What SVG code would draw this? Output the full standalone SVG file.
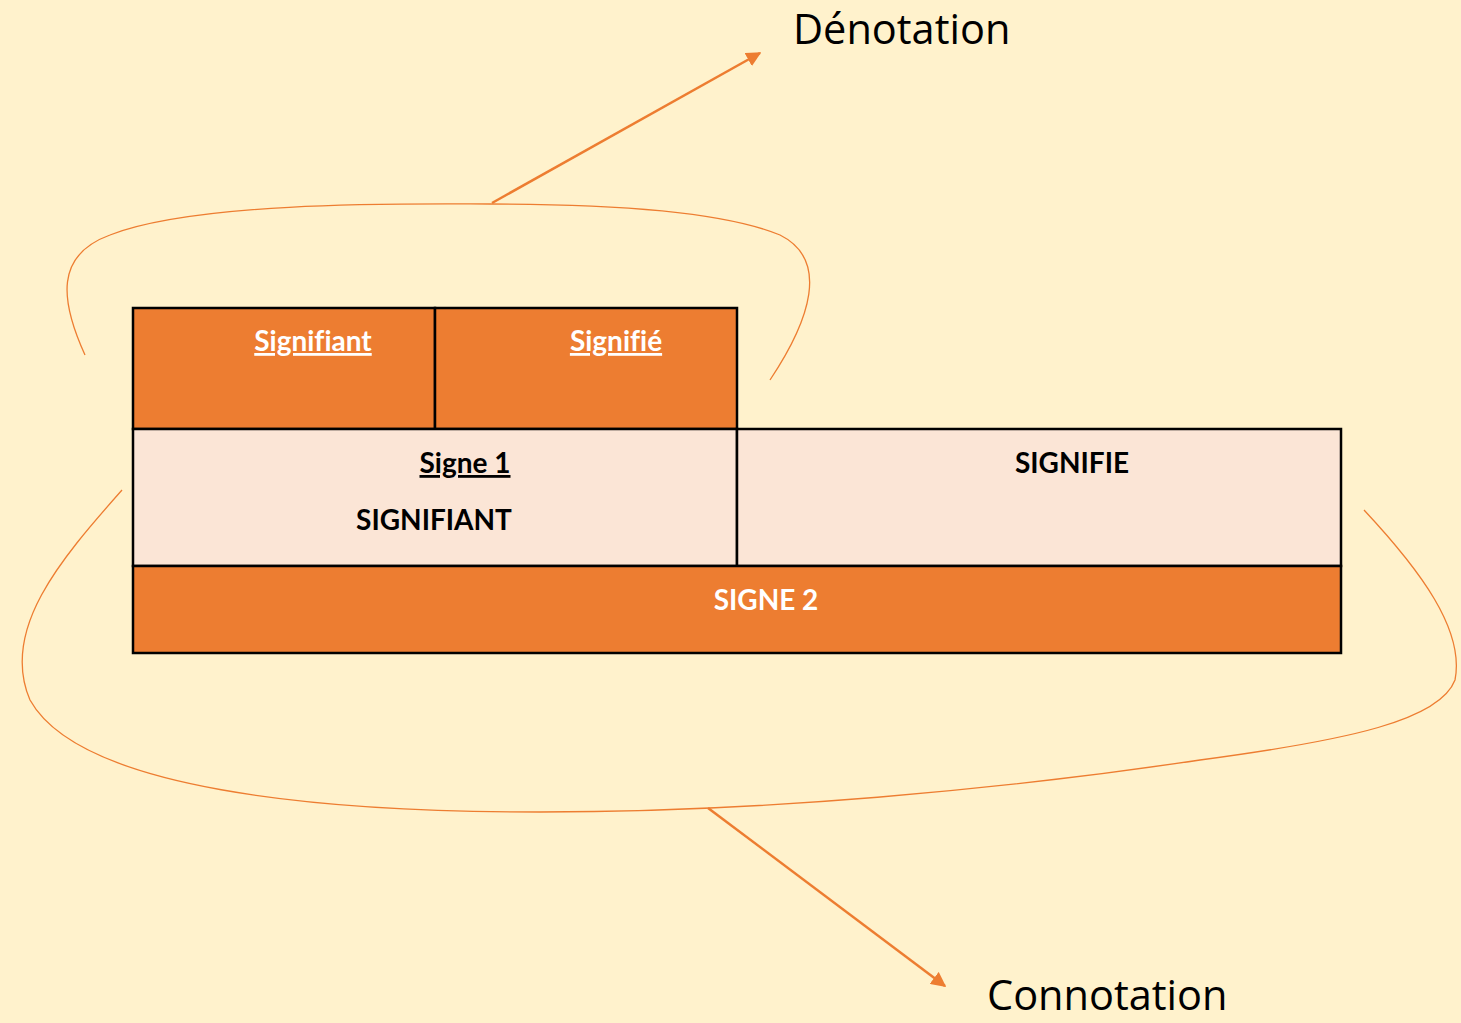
<svg xmlns="http://www.w3.org/2000/svg" width="1461" height="1023" viewBox="0 0 1461 1023">
<defs>
<marker id="ah" viewBox="0 0 10 10" refX="9" refY="5" markerWidth="6" markerHeight="6" orient="auto" markerUnits="strokeWidth">
<path d="M0,0 L10,5 L0,10 z" fill="#ED7D31"/>
</marker>
<style>
.dark{fill:#ED7D31;stroke:#000;stroke-width:2.5}
.light{fill:#FBE5D6;stroke:#000;stroke-width:2.5}
.w{font-family:Lato,"Open Sans",sans-serif;font-weight:bold;font-size:28px;fill:#fff;text-anchor:middle;font-variant-ligatures:none;font-feature-settings:"liga" 0,"clig" 0}
.b{font-family:Lato,"Open Sans",sans-serif;font-weight:bold;font-size:28px;fill:#000;text-anchor:middle;font-variant-ligatures:none;font-feature-settings:"liga" 0,"clig" 0}
.big{font-family:"Open Sans","Noto Sans",sans-serif;font-size:41.5px;fill:#000}
.curve{fill:none;stroke:#ED7D31;stroke-width:1.3}
.arr{fill:none;stroke:#ED7D31;stroke-width:2.5}
</style>
</defs>
<rect width="1461" height="1023" fill="#FFF2CC"/>
<g id="connectors">
<path class="curve" d="M85,355 C60,300 55,255 110,235 C200,200 420,204 490,204 C600,204 720,210 780,235 C830,260 810,320 770,380"/>
<path class="curve" d="M122,490 C60,560 0,630 30,700 C80,790 320,812 540,812 C760,812 1000,790 1200,760 C1350,740 1440,720 1455,680 C1465,630 1420,570 1364,510"/>
<line class="arr" x1="492" y1="203" x2="760" y2="53" marker-end="url(#ah)"/>
<line class="arr" x1="708" y1="808" x2="945" y2="986" marker-end="url(#ah)"/>
</g>
<g id="signifiant1"><rect class="dark" x="133" y="308" width="302" height="121"/><text class="w" x="313" y="351" text-decoration="underline">Signifiant</text></g>
<g id="signifie1"><rect class="dark" x="435" y="308" width="302" height="121"/><text class="w" x="616" y="351" text-decoration="underline">Signifié</text></g>
<g id="signifiant2"><rect class="light" x="133" y="429" width="604" height="137"/><text class="b" x="465" y="473" text-decoration="underline">Signe 1</text><text class="b" x="434" y="530">SIGNIFIANT</text></g>
<g id="signifie2"><rect class="light" x="737" y="429" width="604" height="137"/><text class="b" x="1072" y="473">SIGNIFIE</text></g>
<g id="signe2"><rect class="dark" x="133" y="566" width="1208" height="87"/><text class="w" x="766" y="610">SIGNE 2</text></g>
<g id="denotation"><text class="big" x="793" y="44">Dénotation</text></g>
<g id="connotation"><text class="big" x="987" y="1010">Connotation</text></g>
</svg>
